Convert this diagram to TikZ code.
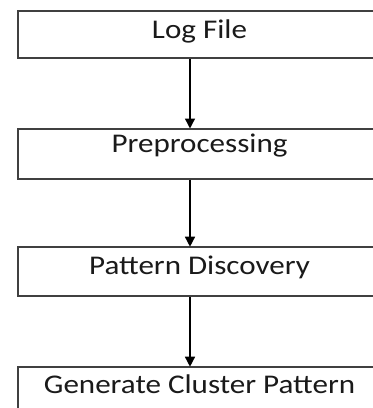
\documentclass[tikz,border=0pt]{standalone}
\usepackage{fontspec}
\setmainfont{Carlito}[FakeStretch=1.15]
\usetikzlibrary{arrows.meta}
\definecolor{boxline}{HTML}{404040}
\definecolor{txt}{HTML}{1A1A1A}
\tikzset{
  stepbox/.style={draw=boxline, line width=2pt, rectangle, inner sep=0pt,
    minimum width=364pt, anchor=north west, text=txt,
    font=\fontsize{27pt}{30pt}\selectfont},
  flow/.style={draw=black, line width=1.4pt,
    -{Triangle[width=10pt,length=10pt]}, shorten >=-1pt}
}
\begin{document}
\begin{tikzpicture}[x=1pt,y=-1pt]
\useasboundingbox (0,0) rectangle (373,408);
\clip (0,0) rectangle (373,408);
\fill[white] (0,0) rectangle (373,408);
\node[stepbox, text height=27.3pt, text depth=20pt] (b1) at (16.5,10) {Log File};
\node[stepbox, text height=24pt, text depth=26.2pt] (b2) at (16.5,127.5) {Preprocessing};
\node[stepbox, text height=27.6pt, text depth=21.7pt] (b3) at (16.5,245.7) {Pattern Discovery};
\node[stepbox, text height=26.6pt, text depth=22pt] (b4) at (16.5,365.7) {Generate Cluster Pattern};
\coordinate (a1) at ([xshift=-9.5pt]b1.south);
\coordinate (a2) at ([xshift=-9.5pt]b2.south);
\coordinate (a3) at ([xshift=-9.5pt]b3.south);
\draw[flow] (a1) -- (a1 |- b2.north);
\draw[flow] (a2) -- (a2 |- b3.north);
\draw[flow] (a3) -- (a3 |- b4.north);
\end{tikzpicture}
\end{document}
